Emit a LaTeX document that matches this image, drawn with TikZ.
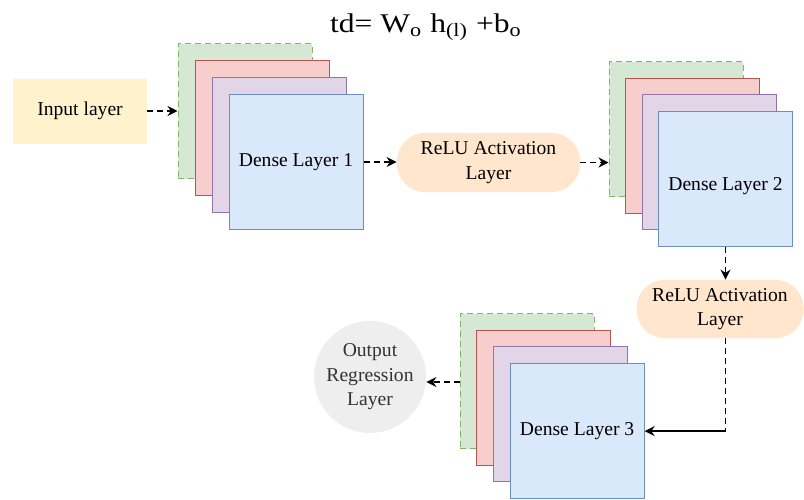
\documentclass[tikz,border=0pt]{standalone}
\usepackage{fontspec}
\setmainfont{Liberation Serif}
\usetikzlibrary{arrows.meta,positioning}

\definecolor{greenfill}{HTML}{D5E8D4}
\definecolor{greenline}{HTML}{82B366}
\definecolor{redfill}{HTML}{F8CECC}
\definecolor{redline}{HTML}{B85450}
\definecolor{purplefill}{HTML}{E1D5E7}
\definecolor{purpleline}{HTML}{9673A6}
\definecolor{bluefill}{HTML}{DAE8FC}
\definecolor{blueline}{HTML}{6C8EBF}
\definecolor{inputfill}{HTML}{FFF2CC}
\definecolor{relufill}{HTML}{FFE6CC}
\definecolor{outfill}{HTML}{EEEEEE}

\newcommand\bodyfont{\fontsize{9.8}{12.2}\selectfont}

\tikzset{
  layer/.style    = {shape=rectangle, draw, line width=0.5pt,
                     minimum width=67pt, minimum height=67.5pt,
                     inner sep=0pt, align=center, font=\bodyfont},
  sheetg/.style   = {layer, draw=greenline, fill=greenfill, densely dashed},
  sheetr/.style   = {layer, draw=redline, fill=redfill},
  sheetp/.style   = {layer, draw=purpleline, fill=purplefill},
  sheetb/.style   = {layer, draw=blueline, fill=bluefill},
  inputbox/.style = {shape=rectangle, fill=inputfill, minimum width=67pt,
                     minimum height=32.5pt, font=\bodyfont},
  relu/.style     = {shape=rectangle, rounded corners=14pt, fill=relufill,
                     align=center, font=\bodyfont, inner sep=0pt},
  outnode/.style  = {circle, fill=outfill, minimum size=56pt, inner sep=0pt,
                     align=center, font=\bodyfont, text=black!80},
  link/.style     = {draw, densely dashed, line width=0.8pt,
                     -{Stealth[length=5pt,width=5pt]}}
}

\begin{document}
\begin{tikzpicture}[x=0.5pt, y=-0.5pt]
\useasboundingbox (0,0) rectangle (804,499);

% title
\node[anchor=base, font=\fontsize{13.5}{15}\selectfont] (title) at (426,32)
  {\scalebox{1.17}[1]{td= W\textsubscript{o} h\textsubscript{(l)} +b\textsubscript{o}}};

% input
\node[inputbox] (input) at (80,111) {Input layer};

% dense layer 1
\node[sheetg] (d1g) at (245,111) {};
\node[sheetr] (d1r) at ([shift={(17,17)}]d1g) {};
\node[sheetp] (d1p) at ([shift={(17,17)}]d1r) {};
\node[sheetb] (d1b) at ([shift={(17,17)}]d1p) {Dense Layer 1};

% first activation
\node[relu, minimum width=91.5pt, minimum height=29.5pt] (relu1) at (488.5,162.5)
  {ReLU Activation\\Layer};

% dense layer 2
\node[sheetg] (d2g) at (676,129) {};
\node[sheetr] (d2r) at ([shift={(16.5,16.5)}]d2g) {};
\node[sheetp] (d2p) at ([shift={(16.5,16.5)}]d2r) {};
\node[sheetb, label={[font=\bodyfont, yshift=-4pt]center:Dense Layer 2}] (d2b)
  at ([shift={(16.5,16.5)}]d2p) {};

% second activation
\node[relu, minimum width=83.5pt, minimum height=29pt] (relu2) at (720,309)
  {ReLU Activation\\Layer};

% dense layer 3
\node[sheetg] (d3g) at (527,381) {};
\node[sheetr] (d3r) at ([shift={(16.7,16.7)}]d3g) {};
\node[sheetp] (d3p) at ([shift={(16.7,16.7)}]d3r) {};
\node[sheetb] (d3b) at ([shift={(16.7,16.7)}]d3p) {Dense Layer 3};

% output
\node[outnode] (out) at (370,377) {Output\\Regression\\Layer};

% connectors
\draw[link] (input.east) -- (input.east -| d1g.west);
\draw[link] (d1b.east) -- (d1b.east -| relu1.west);
\draw[link] (relu1.east) -- (relu1.east -| d2g.west);
\draw[link] (d2b.south) -- (d2b.south |- relu2.north);
\coordinate (turn) at (d2b.south |- d3b.east);
\draw[densely dashed, line width=0.8pt] (d2b.south |- relu2.south) -- (turn);
\draw[line width=1pt, -{Stealth[length=5pt,width=5pt]}] (turn) -- (d3b.east);
\draw[link] (d3g.west |- 0,382) -- (out.east |- 0,382);
\end{tikzpicture}
\end{document}
